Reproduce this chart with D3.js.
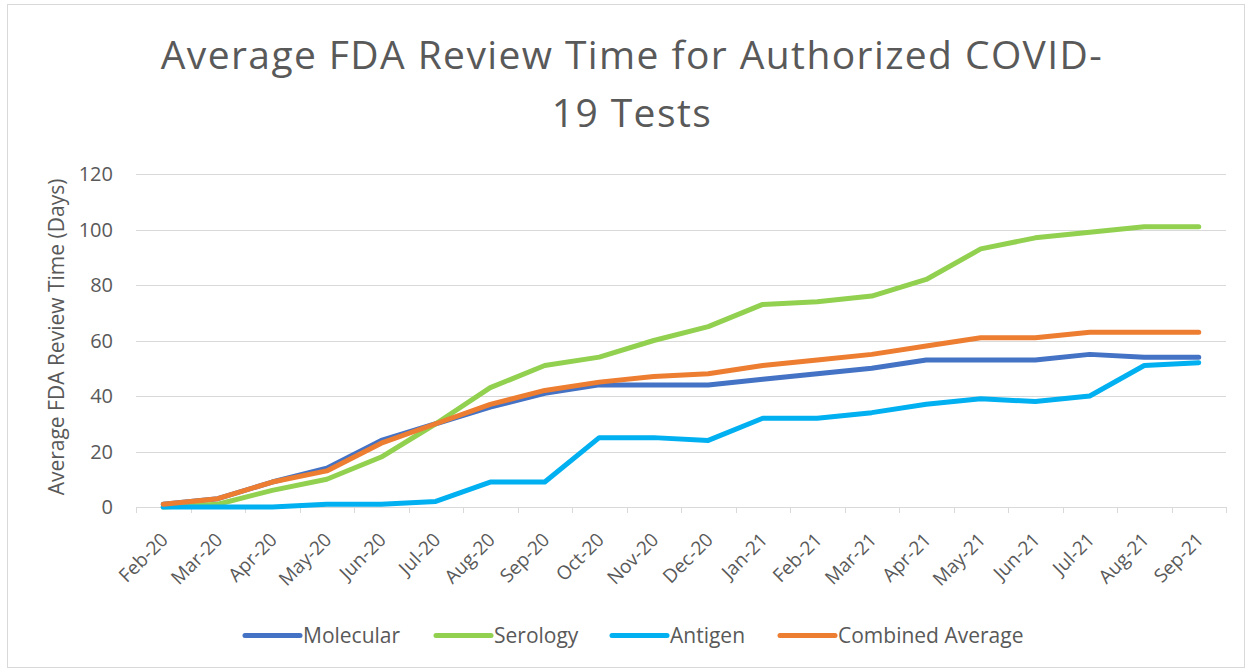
<!DOCTYPE html>
<meta charset="utf-8">
<style>
  body { margin: 0; background: #fff; }
  text { font-family: "Open Sans", "DejaVu Sans", sans-serif; fill: #595959; }
  .grid line { stroke: #d9d9d9; stroke-width: 1; }
  .series { fill: none; stroke-width: 5; stroke-linejoin: round; stroke-linecap: round; }
</style>
<body></body>
<script src="https://d3js.org/d3.v7.min.js"></script>
<script>
// categories (months)
var months = ["Feb-20", "Mar-20", "Apr-20", "May-20", "Jun-20", "Jul-20", "Aug-20", "Sep-20", "Oct-20", "Nov-20",
              "Dec-20", "Jan-21", "Feb-21", "Mar-21", "Apr-21", "May-21", "Jun-21", "Jul-21", "Aug-21", "Sep-21"];

// average review time in days
var molecular = [1, 3, 9, 14, 24, 30, 36, 41, 44, 44, 44, 46, 48, 50, 53, 53, 53, 55, 54, 54];
var serology  = [0, 1, 6, 10, 18, 30, 43, 51, 54, 60, 65, 73, 74, 76, 82, 93, 97, 99, 101, 101];
var antigen   = [0, 0, 0, 1, 1, 2, 9, 9, 25, 25, 24, 32, 32, 34, 37, 39, 38, 40, 51, 52];
var combined  = [1, 3, 9, 13, 23, 30, 37, 42, 45, 47, 48, 51, 53, 55, 58, 61, 61, 63, 63, 63];

var yTicks = [0, 20, 40, 60, 80, 100, 120];
var seriesNames = ["Molecular", "Serology", "Antigen", "Combined Average"];
var seriesColors = ["#4472C4", "#92D050", "#00B0F0", "#ED7D31"];
var seriesValues = [molecular, serology, antigen, combined];

var width = 1253, height = 672;
var plot = {left: 136, right: 1226, top: 174, bottom: 507};

var svg = d3.select("body").append("svg")
    .attr("width", width)
    .attr("height", height);

// chart border
svg.append("rect")
    .attr("x", 7.5).attr("y", 4.5)
    .attr("width", 1237).attr("height", 663)
    .attr("fill", "#fff")
    .attr("stroke", "#d9d9d9");

// title
var title = svg.append("text")
    .attr("text-anchor", "middle")
    .style("font-size", "39px")
    .style("letter-spacing", "1.4px");
title.append("tspan").attr("x", 632).attr("y", 69).text("Average FDA Review Time for Authorized COVID-");
title.append("tspan").attr("x", 632).attr("y", 127).text("19 Tests");

var x = d3.scaleBand().domain(months).range([plot.left, plot.right]);
var y = d3.scaleLinear().domain([0, 120]).range([plot.bottom, plot.top]);

// horizontal gridlines
svg.append("g").attr("class", "grid")
    .selectAll("line")
    .data(yTicks.filter(d => d > 0))
    .enter().append("line")
    .attr("x1", plot.left).attr("x2", plot.right)
    .attr("y1", d => Math.round(y(d)) + 0.5)
    .attr("y2", d => Math.round(y(d)) + 0.5);

// y axis labels
svg.append("g").selectAll("text")
    .data(yTicks)
    .enter().append("text")
    .attr("x", 113)
    .attr("y", d => y(d))
    .attr("dy", "0.35em")
    .attr("text-anchor", "end")
    .style("font-size", "20px")
    .text(d => d);

// y axis title
svg.append("text")
    .attr("transform", "translate(" + 64 + "," + 337 + ") rotate(-90)")
    .attr("text-anchor", "middle")
    .style("font-size", "21px")
    .text("Average FDA Review Time (Days)");

// x axis line + ticks at band edges
var xAxis = svg.append("g").attr("class", "grid");
xAxis.append("line")
    .attr("x1", plot.left).attr("x2", plot.right)
    .attr("y1", plot.bottom + 0.5).attr("y2", plot.bottom + 0.5);
xAxis.selectAll(".tick")
    .data(months.concat(["end"]))
    .enter().append("line")
    .attr("x1", (d, i) => Math.round(plot.left + i * x.step()) + 0.5)
    .attr("x2", (d, i) => Math.round(plot.left + i * x.step()) + 0.5)
    .attr("y1", plot.bottom).attr("y2", plot.bottom + 6);

// x labels
svg.append("g").selectAll("text")
    .data(months)
    .enter().append("text")
    .attr("transform", d => "translate(" + (x(d) + x.bandwidth() / 2 + 6) + "," + (plot.bottom + 34) + ") rotate(-45)")
    .attr("text-anchor", "end")
    .style("font-size", "19px")
    .text(d => d);

// lines
var line = d3.line()
    .x((d, i) => x(months[i]) + x.bandwidth() / 2)
    .y(d => y(d));

svg.append("g").selectAll("path")
    .data(seriesValues)
    .enter().append("path")
    .attr("class", "series")
    .attr("stroke", (d, i) => seriesColors[i])
    .attr("d", line);

// legend
var legendX = [245, 436, 612, 780];
var legend = svg.append("g").selectAll("g")
    .data(seriesNames)
    .enter().append("g")
    .attr("transform", (d, i) => "translate(" + legendX[i] + ",635.5)");
legend.append("line")
    .attr("x1", 0).attr("x2", 55)
    .attr("y1", 0).attr("y2", 0)
    .attr("stroke", (d, i) => seriesColors[i])
    .attr("stroke-width", 5)
    .attr("stroke-linecap", "round");
legend.append("text")
    .attr("x", 58)
    .attr("dy", "0.35em")
    .style("font-size", "21px")
    .text(d => d);
</script>
